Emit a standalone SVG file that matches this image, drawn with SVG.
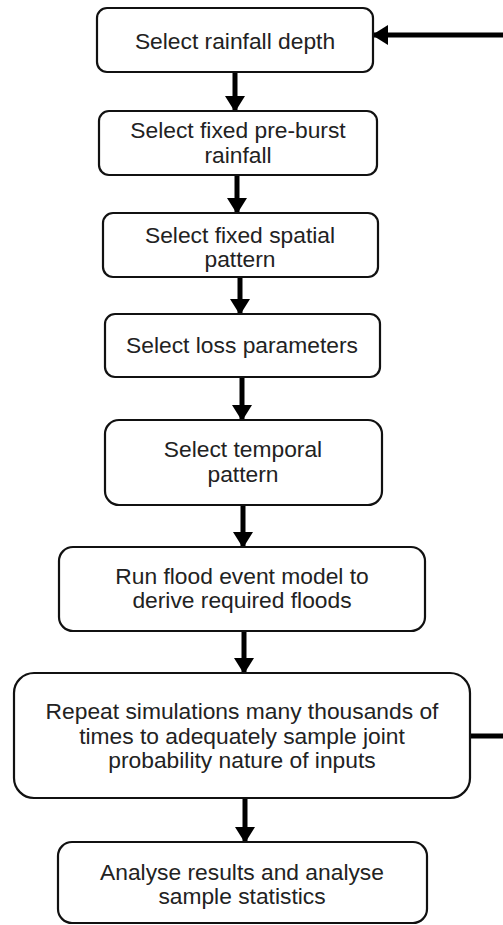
<svg xmlns="http://www.w3.org/2000/svg" width="503" height="925" viewBox="0 0 503 925">
<style>
.box{fill:#fff;stroke:#111;stroke-width:2.2}
.t{font-family:"Liberation Sans",Arial,sans-serif;font-size:22.8px;fill:#222;text-anchor:middle}
.c{fill:none;stroke:#000;stroke-width:5}
</style>
<defs>
<marker id="ah" markerUnits="userSpaceOnUse" markerWidth="16" markerHeight="20" refX="15" refY="10" orient="auto">
<path d="M0,0 L16,10 L0,20 z" fill="#000"/>
</marker>
</defs>
<rect width="503" height="925" fill="#fff"/>
<g id="connectors">
<path class="c" d="M235,72 V111" marker-end="url(#ah)"/>
<path class="c" d="M237,175 V213" marker-end="url(#ah)"/>
<path class="c" d="M240,277 V314" marker-end="url(#ah)"/>
<path class="c" d="M242,378 V420" marker-end="url(#ah)"/>
<path class="c" d="M243,505 V547" marker-end="url(#ah)"/>
<path class="c" d="M244,632 V673" marker-end="url(#ah)"/>
<path class="c" d="M245,798 V842" marker-end="url(#ah)"/>
<path class="c" d="M470,736 H508 V35 H373" marker-end="url(#ah)"/>
</g>
<g id="n1">
<rect class="box" x="97" y="8" width="276" height="64" rx="10"/>
<text class="t" x="235" y="49">Select rainfall depth</text>
</g>
<g id="n2">
<rect class="box" x="99" y="111" width="278" height="64" rx="10"/>
<text class="t" x="238" y="138">Select fixed pre-burst</text>
<text class="t" x="238" y="163">rainfall</text>
</g>
<g id="n3">
<rect class="box" x="103" y="213" width="275" height="64" rx="10"/>
<text class="t" x="240" y="243">Select fixed spatial</text>
<text class="t" x="240" y="267">pattern</text>
</g>
<g id="n4">
<rect class="box" x="105" y="314" width="275" height="63" rx="10"/>
<text class="t" x="242" y="353">Select loss parameters</text>
</g>
<g id="n5">
<rect class="box" x="105" y="420" width="277" height="85" rx="14"/>
<text class="t" x="243" y="457">Select temporal</text>
<text class="t" x="243" y="482">pattern</text>
</g>
<g id="n6">
<rect class="box" x="59" y="547" width="366" height="84" rx="14"/>
<text class="t" x="242" y="584">Run flood event model to</text>
<text class="t" x="242" y="608">derive required floods</text>
</g>
<g id="n7">
<rect class="box" x="14" y="673" width="456" height="125" rx="20"/>
<text class="t" x="242" y="719">Repeat simulations many thousands of</text>
<text class="t" x="242" y="744">times to adequately sample joint</text>
<text class="t" x="242" y="768">probability nature of inputs</text>
</g>
<g id="n8">
<rect class="box" x="58" y="842" width="369" height="81" rx="14"/>
<text class="t" x="242" y="880">Analyse results and analyse</text>
<text class="t" x="242" y="904">sample statistics</text>
</g>
</svg>
